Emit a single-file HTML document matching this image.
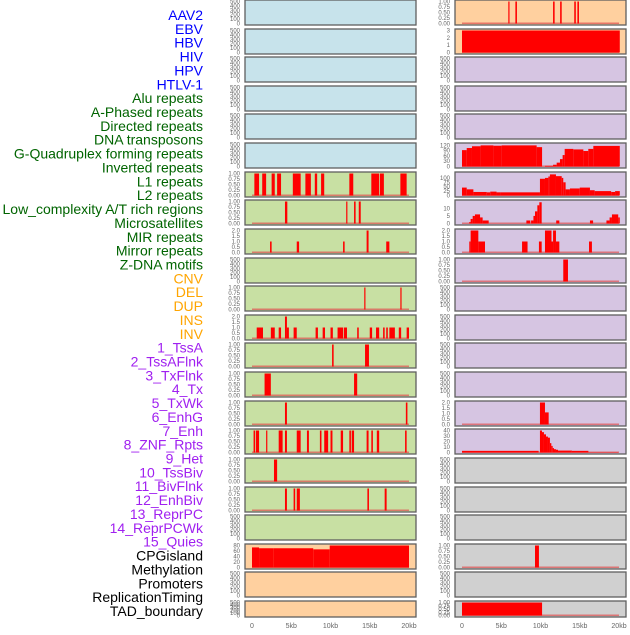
<!DOCTYPE html>
<html><head><meta charset="utf-8"><style>
body{margin:0;background:#fff;width:630px;height:630px;overflow:hidden;font-family:"Liberation Sans",sans-serif}
</style></head><body>
<svg id="chart" width="630" height="630" xmlns="http://www.w3.org/2000/svg" style="font-family:'Liberation Sans',sans-serif"></svg>
<script>
const rowLabels=["AAV2","EBV","HBV","HIV","HPV","HTLV-1","Alu repeats","A-Phased repeats","Directed repeats","DNA transposons","G-Quadruplex forming repeats","Inverted repeats","L1 repeats","L2 repeats","Low_complexity A/T rich regions","Microsatellites","MIR repeats","Mirror repeats","Z-DNA motifs","CNV","DEL","DUP","INS","INV","1_TssA","2_TssAFlnk","3_TxFlnk","4_Tx","5_TxWk","6_EnhG","7_Enh","8_ZNF_Rpts","9_Het","10_TssBiv","11_BivFlnk","12_EnhBiv","13_ReprPC","14_ReprPCWk","15_Quies","CPGisland","Methylation","Promoters","ReplicationTiming","TAD_boundary"];
const labelColors=[[6,"#0000ff"],[13,"#006400"],[5,"#ffa500"],[15,"#a020f0"],[5,"#000000"]];
const xTicks=[0,5,10,15,20];
const xTickLabels=["0","5kb","10kb","15kb","20kb"];
const T500=[0,100,200,300,400,500], T1=[0,0.25,0.5,0.75,1], T2=[0,0.5,1,1.5,2];
// left column panels: [color, ticks, bars [startKb,endKb,value], baseline]
const leftBg=["b","b","b","b","b","b","g","g","g","g","g","g","g","g","g","g","g","g","g","o","o","o"];
const leftTicks=[T500,T500,T500,T500,T500,T500,T1,T1,T2,T500,T1,T2,T1,T1,T1,T1,T1,T1,T500,[0,20,40,60,80],T500,T500];
const leftBars=[[],[],[],[],[],[],
[[0.3,0.9,1],[1.3,1.8,1],[2.5,2.9,1],[3.2,3.7,1],[5.2,6.2,1],[6.8,7.5,1],[8.0,8.3,1],[8.8,9.2,1],[12.4,12.9,1],[15.2,16.2,1],[16.3,16.8,1],[18.9,19.7,1]],
[[4.2,4.5,1],[12.0,12.15,1],[13.0,13.2,1],[13.6,13.85,1]],
[[2.3,2.5,1],[5.7,6.0,1],[11.6,11.8,1],[14.6,14.85,2],[17.1,17.5,1]],
[],
[[14.3,14.45,1],[18.9,19.05,1]],
[[0.6,1.4,1],[2.4,2.9,1],[3.4,3.7,1],[4.2,4.45,2],[4.45,4.7,1],[5.3,5.7,1],[8.1,8.4,1],[9.0,9.3,1],[10.0,10.3,1],[10.9,11.6,1],[11.7,12.1,1],[13.4,13.6,1],[15.0,15.3,1],[15.8,16.2,1],[16.7,16.9,1],[17.1,17.3,1],[17.5,18.2,1],[18.7,19.0,1],[19.7,20.0,1]],
[[10.2,10.4,1],[14.4,14.9,1]],
[[1.6,2.4,1],[13.0,13.4,1]],
[[4.2,4.45,1],[19.6,19.8,1]],
[[0.2,0.4,1],[0.5,0.9,1],[1.8,1.95,1],[3.4,3.9,1],[4.2,4.45,1],[5.7,6.2,1],[7.0,7.25,1],[8.65,8.85,1],[9.2,9.7,1],[10.0,10.25,1],[11.3,11.6,1],[12.4,12.6,1],[12.7,13.0,1],[14.6,14.85,1],[15.2,15.4,1],[15.9,16.2,1],[19.5,19.7,1]],
[[2.8,3.2,1]],
[[4.2,4.45,1],[5.3,5.5,1],[5.7,6.1,1],[14.7,14.9,1],[16.9,17.15,1]],
[],
[[0,0.9,73],[0.9,2.7,70],[2.7,7.8,70],[7.8,9.9,66],[9.9,20,80]],
[],[]];
const rightBg=["o","o","p","p","p","p","p","p","p","p","p","p","p","p","p","p","y","y","y","y","y","y"];
const rightTicks=[T1,[0,1,2,3],T500,T500,T500,[0,30,60,90,120],[0,25,50,75,100],[0,5,10],T2,T1,T500,T500,T500,T500,T2,[0,10,20,30,40],T500,T500,T500,T1,T500,T1];
const rightMax=[1,3,500,500,500,125,125,14.5,2,1,500,500,500,500,2,40,500,500,500,1,500,1];
const rightBars=[
[[5.9,6.05,1],[6.8,7.0,1],[11.6,11.8,1],[12.5,12.7,1],[14.3,14.5,1],[14.7,14.9,1]],
[[0,20.1,3]],
[],[],[],
[[0,0.6,93],[0.6,1.27,105],[1.27,2.37,115],[2.37,4.0,120],[4.0,5.05,118],[5.05,9.51,120],[9.51,10.2,110],[10.57,11.6,4],[11.6,12.06,10],[12.06,12.48,22],[12.48,12.82,42],[12.82,13.08,65],[13.08,14.18,100],[14.18,15.46,97],[15.46,16.09,88],[16.09,16.73,100],[16.73,20.1,117]],
[[0,0.6,45],[0.6,1.45,35],[1.45,3.15,20],[3.15,3.6,18],[3.6,4.4,22],[4.4,4.85,18],[4.85,9.93,18],[9.93,10.57,95],[10.57,11.0,100],[11.0,11.2,108],[11.2,11.97,120],[11.97,12.7,110],[12.7,12.9,100],[12.9,13.2,75],[13.2,13.75,35],[13.75,15.0,40],[15.0,16.3,45],[16.3,16.9,30],[16.9,19.0,25],[19.0,19.5,20],[19.5,20.1,25]],
[[0.93,1.1,1],[1.1,1.36,3],[1.36,1.65,5],[1.65,2.3,6],[2.3,2.63,4],[2.63,3.4,2],[8.2,8.7,2],[8.8,9.1,2],[9.1,9.3,5],[9.3,9.6,8],[9.6,9.85,12],[9.85,10.15,14],[12.0,12.4,2],[16.3,16.7,2],[18.4,18.8,2],[18.8,19.1,4],[19.1,19.9,6],[19.9,20.1,4]],
[[0.93,1.1,1],[1.1,2.08,2],[2.08,2.93,1],[7.65,8.35,1],[9.8,10.15,1],[10.57,11.4,2],[11.4,11.6,1],[11.6,11.97,2],[11.97,12.4,1],[16.18,16.55,1]],
[[12.9,13.5,1]],
[],[],[],[],
[[9.93,10.57,2],[10.57,11.04,1.1]],
[[0,9.76,3],[9.93,10.19,40],[10.19,10.44,37],[10.44,10.7,33],[10.7,10.95,29],[10.95,11.2,27],[11.2,11.38,17],[11.38,11.55,12],[11.55,11.72,8],[11.72,11.97,6],[11.97,12.23,5],[12.23,14.0,3.5],[14.0,16.1,3],[16.1,19.9,0.5]],
[],[],[],
[[9.3,9.8,1]],
[],
[[0,10.2,1]]];
const bgCol={b:"#c7e3eb",g:"#c8e0a3",o:"#ffd09f",p:"#d6c5e2",y:"#d0d0d0"};
const NS="http://www.w3.org/2000/svg";
const svg=document.getElementById("chart");
function mk(tag,attrs,parent){const e=document.createElementNS(NS,tag);for(const k in attrs)e.setAttribute(k,attrs[k]);(parent||svg).appendChild(e);return e;}
// row labels
let ci=0,cnt=0;
rowLabels.forEach((t,i)=>{
  while(cnt>=labelColors[ci][0]){ci++;cnt=0;}
  cnt++;
  const e=mk("text",{x:203,y:20+i*13.86,"text-anchor":"end","font-size":"14",fill:labelColors[ci][1]});
  e.textContent=t;
  
  
});
function rowTop(i){return Math.round(i*28.62);}
function rowH(i){return i===21?16:25;}
function drawPanel(col,i,bg,ticks,bars,maxV){
  const px=col===0?245:455, x0=col===0?252:462, sc=7.85;
  const top=rowTop(i), h=rowH(i);
  const g=mk("g",{});
  
  
  mk("rect",{x:px,y:top,width:171,height:h,fill:bgCol[bg],stroke:"#5f5f5f","stroke-width":1.3},g);
  const yb=top+h-1.5, ph=h-3;
  const xs=k=>x0+k*sc, ys=v=>yb-v/maxV*ph;
  ticks.forEach(t=>{
    const e=mk("text",{x:240,y:ys(t)+2,"text-anchor":"end","font-size":"6",fill:"#666"},g);
    e.textContent=(ticks===T1)?t.toFixed(2):(ticks===T2?t.toFixed(1):String(t));
    
    
    if(col===1)e.setAttribute("x",450);
  });
  if(bars.length){
    const bl=mk("rect",{x:xs(0),y:yb-1,width:xs(20)-xs(0),height:1.5,fill:"#e05050",opacity:0.7},g);
    
    
  }
  bars.forEach(b=>{
    const r=mk("rect",{x:xs(b[0]),y:ys(b[2]),width:Math.max(1.2,xs(b[1])-xs(b[0])),height:yb-ys(b[2]),fill:"#ff0000"},g);
    
    
  });
}
for(let i=0;i<22;i++){
  const lt=leftTicks[i];
  drawPanel(0,i,leftBg[i],lt,leftBars[i],lt[lt.length-1]);
  drawPanel(1,i,rightBg[i],rightTicks[i],rightBars[i],rightMax[i]);
}
[252,462].forEach((x0,c)=>{
  xTicks.forEach((k,j)=>{
    const e=mk("text",{x:x0+k*7.85,y:628,"text-anchor":"middle","font-size":"7",fill:"#666"});
    e.textContent=xTickLabels[j];
    
    
  });
});
</script>
</body></html>
